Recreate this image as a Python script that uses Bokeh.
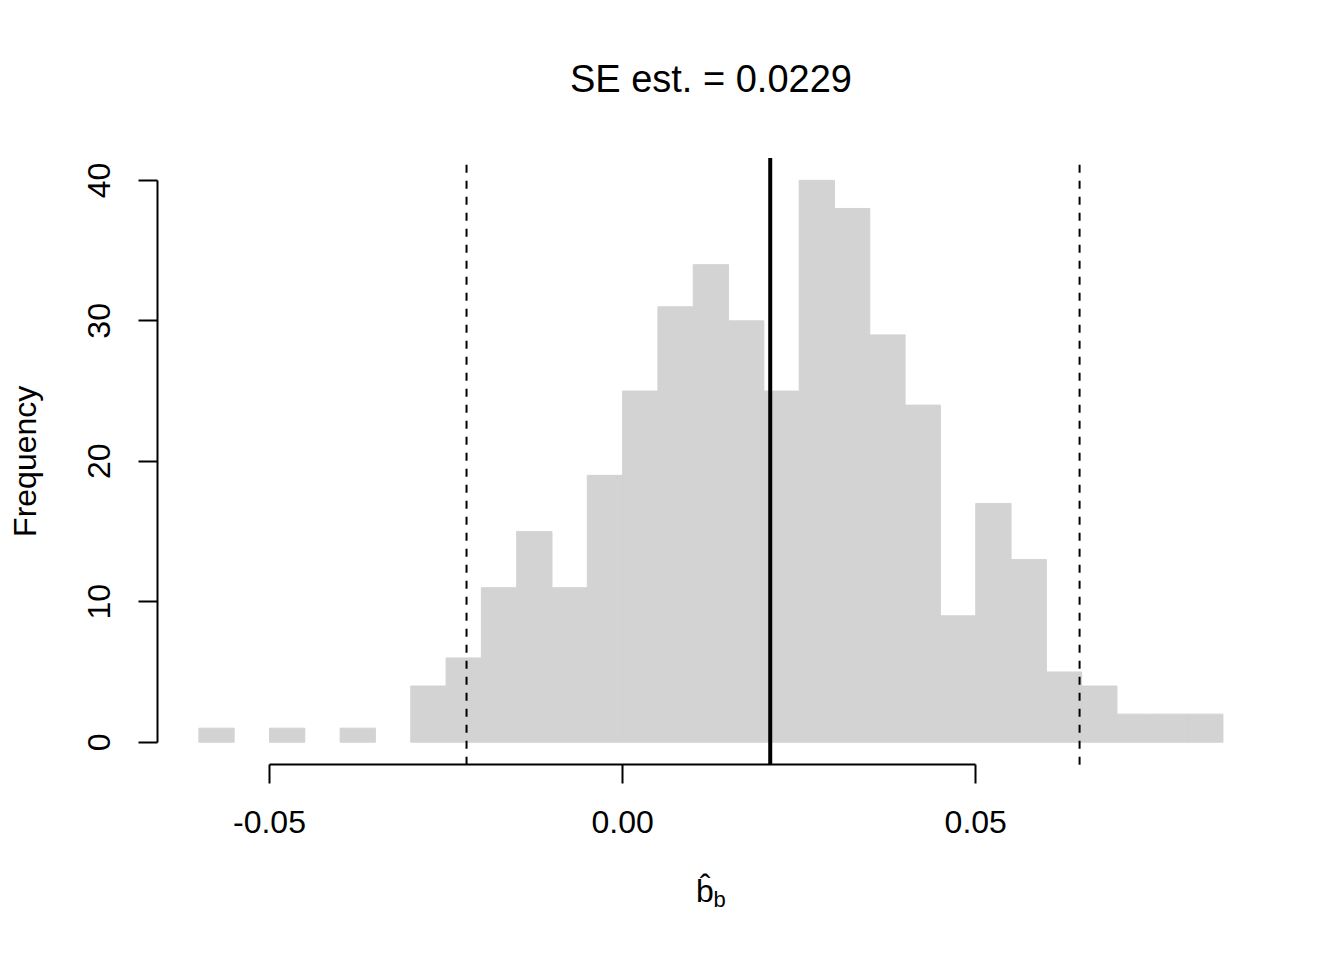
import math
from bokeh.plotting import figure
from bokeh.models import Range1d, FixedTicker, NumeralTickFormatter, Label
from bokeh.embed import file_html
from bokeh.resources import INLINE

# ---- data ----
bin_left = [-0.060, -0.055, -0.050, -0.045, -0.040, -0.035, -0.030, -0.025, -0.020, -0.015,
            -0.010, -0.005, 0.000, 0.005, 0.010, 0.015, 0.020, 0.025, 0.030, 0.035,
            0.040, 0.045, 0.050, 0.055, 0.060, 0.065, 0.070, 0.075, 0.080]
bin_width = 0.005
counts = [1, 0, 1, 0, 1, 0, 4, 6, 11, 15,
          11, 19, 25, 31, 34, 30, 25, 40, 38, 29,
          24, 9, 17, 13, 5, 4, 2, 2, 2]
estimate = 0.0209
ci_lower = -0.0221
ci_upper = 0.0647
x_ticks = [-0.05, 0.0, 0.05]
y_ticks = [0, 10, 20, 30, 40]
title_text = "SE est. = 0.0229"
ylabel_text = "Frequency"
xlabel_main = "b\u0302"
xlabel_sub = "b"

FONT = "Liberation Sans"

# ---- plot region (R style: 4% padding around the data) ----
bin_right = [b + bin_width for b in bin_left]
xmin, xmax = min(bin_left), max(bin_right)
ymin, ymax = 0, max(counts)
X0 = xmin - 0.04 * (xmax - xmin)
X1 = xmax + 0.04 * (xmax - xmin)
Y0 = ymin - 0.04 * (ymax - ymin)
Y1 = ymax + 0.04 * (ymax - ymin)

W, H = 1328, 944
PL, PR, PT, PB = 157.4, 1263.4, 157.4, 764.2   # plot region in canvas pixels
kx = (X1 - X0) / (PR - PL)
ky = (Y1 - Y0) / (PB - PT)
x_lo, x_hi = X0 - PL * kx, X0 + (W - PL) * kx
y_hi, y_lo = Y1 + PT * ky, Y1 - (H - PT) * ky

def px2x(px):
    return X0 + (px - PL) * kx

def py2y(py):
    return Y1 - (py - PT) * ky

p = figure(width=W, height=H, x_range=Range1d(x_lo, x_hi), y_range=Range1d(y_lo, y_hi),
           min_border=0, min_border_left=0, min_border_right=0,
           min_border_top=0, min_border_bottom=0,
           output_backend="svg", toolbar_location=None, title=None)
p.outline_line_color = None
p.xgrid.visible = False
p.ygrid.visible = False
p.background_fill_color = "white"
p.border_fill_color = "white"

edge_alpha = [1.0 if c > 0 else 0.0 for c in counts]
p.quad(left=bin_left, right=bin_right, bottom=0, top=counts,
       fill_color="#D3D3D3", line_color="#D3D3D3", line_width=1, line_alpha=edge_alpha)

p.segment(x0=[estimate], y0=[Y0], x1=[estimate], y1=[Y1], line_color="black", line_width=4)
p.segment(x0=[ci_lower, ci_upper], y0=[Y0, Y0], x1=[ci_lower, ci_upper], y1=[Y1, Y1],
          line_color="black", line_width=2, line_dash="8 8")

p.xaxis.fixed_location = Y0
p.yaxis.fixed_location = X0
for ax, ticks, fmt, sto in ((p.xaxis[0], x_ticks, "0.00", 27),
                            (p.yaxis[0], y_ticks, "0", 29)):
    ax.ticker = FixedTicker(ticks=ticks)
    ax.formatter = NumeralTickFormatter(format=fmt)
    ax.bounds = (ticks[0], ticks[-1])
    ax.minor_tick_line_color = None
    ax.major_tick_in = 0
    ax.major_tick_out = 19
    ax.major_tick_line_width = 2
    ax.major_tick_line_color = "black"
    ax.axis_line_width = 2
    ax.axis_line_color = "black"
    ax.major_label_text_font = FONT
    ax.major_label_text_font_size = "32px"
    ax.major_label_text_color = "black"
    ax.major_label_standoff = sto
p.yaxis[0].major_label_orientation = "parallel"

# title
p.add_layout(Label(x=px2x(710.4), y=py2y(78.5), text=title_text, text_font=FONT,
                   text_font_size="38px", text_align="center",
                   text_baseline="alphabetic", text_color="black"))
# y label
p.add_layout(Label(x=px2x(24.5), y=py2y(460.8), text=ylabel_text, text_font=FONT,
                   text_font_size="32px", text_align="center", angle=math.pi / 2,
                   text_baseline="alphabetic", text_color="black"))
# x label: b-hat with subscript b
p.add_layout(Label(x=px2x(695.5), y=py2y(890.5), text=xlabel_main, text_font=FONT,
                   text_font_size="32px", text_align="left",
                   text_baseline="alphabetic", text_color="black"))
p.add_layout(Label(x=px2x(713), y=py2y(899), text=xlabel_sub, text_font=FONT,
                   text_font_size="22px", text_align="left",
                   text_baseline="alphabetic", text_color="black"))

open("out.html", "w").write(file_html(p, INLINE))
